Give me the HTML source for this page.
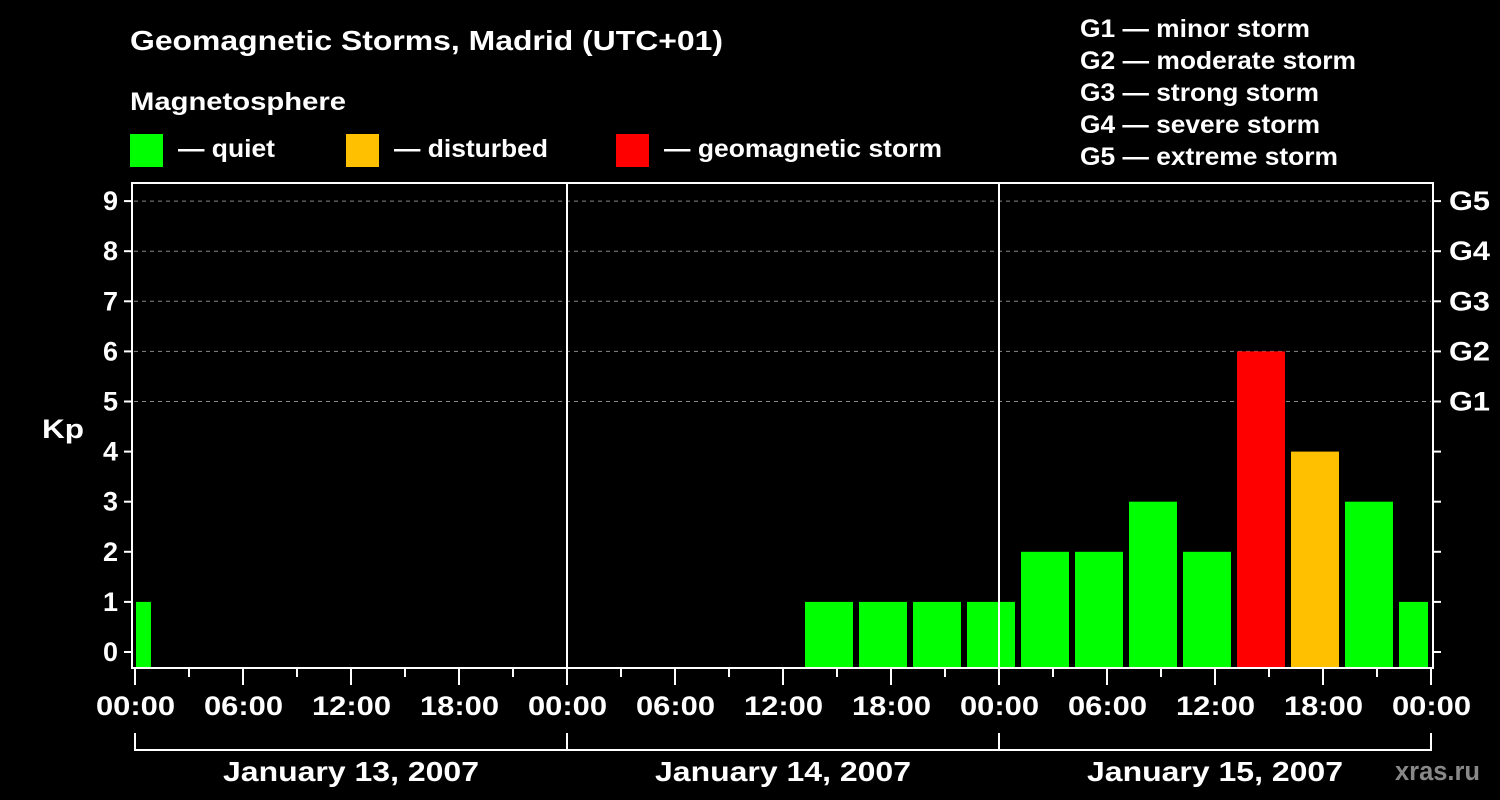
<!DOCTYPE html>
<html><head><meta charset="utf-8"><style>
body{margin:0;background:#000;width:1500px;height:800px;overflow:hidden}
svg{display:block;font-family:"Liberation Sans",Arial,sans-serif;font-weight:bold}
</style></head><body>
<svg id="chart" width="1500" height="800">
<rect width="1500" height="800" fill="#000"/>
<text x="130" y="50" fill="#fff" font-size="28" textLength="593" lengthAdjust="spacingAndGlyphs">Geomagnetic Storms, Madrid (UTC+01)</text>
<text x="130" y="110" fill="#fff" font-size="25" textLength="216" lengthAdjust="spacingAndGlyphs">Magnetosphere</text>
<g>
<rect x="130" y="134" width="33" height="33" fill="#00ff00"/>
<text x="178" y="157" fill="#fff" font-size="25" textLength="97" lengthAdjust="spacingAndGlyphs">— quiet</text>
<rect x="346" y="134" width="33" height="33" fill="#ffc000"/>
<text x="394" y="157" fill="#fff" font-size="25" textLength="154" lengthAdjust="spacingAndGlyphs">— disturbed</text>
<rect x="616" y="134" width="33" height="33" fill="#ff0000"/>
<text x="664" y="157" fill="#fff" font-size="25" textLength="278" lengthAdjust="spacingAndGlyphs">— geomagnetic storm</text>
</g>
<g fill="#fff" font-size="25">
<text x="1080" y="37" textLength="230" lengthAdjust="spacingAndGlyphs">G1 — minor storm</text>
<text x="1080" y="69" textLength="276" lengthAdjust="spacingAndGlyphs">G2 — moderate storm</text>
<text x="1080" y="101" textLength="239" lengthAdjust="spacingAndGlyphs">G3 — strong storm</text>
<text x="1080" y="133" textLength="240" lengthAdjust="spacingAndGlyphs">G4 — severe storm</text>
<text x="1080" y="165" textLength="258" lengthAdjust="spacingAndGlyphs">G5 — extreme storm</text>
</g>
<text x="42" y="438" fill="#fff" font-size="27" textLength="42" lengthAdjust="spacingAndGlyphs">Kp</text>
<text x="1395" y="780" fill="#888" font-size="27" textLength="85" lengthAdjust="spacingAndGlyphs">xras.ru</text>
<g id="grid"></g><g id="bars"></g><g id="axes"></g>
</svg>
<script>
const days = ["January 13, 2007","January 14, 2007","January 15, 2007"];
const kp = [1,0,0,0,0,0,0,0,0,0,0,0,0,1,1,1,1,2,2,3,2,6,4,3,1];
const yTicks = [0,1,2,3,4,5,6,7,8,9];
const gLabels = ["G1","G2","G3","G4","G5"];
const hourLabels = ["00:00","06:00","12:00","18:00"];
const NS="http://www.w3.org/2000/svg";
const X0=135, PXH=18, L=132, R=1433, T=183, B=668;
const x = h => X0 + h*PXH;
const y = v => 652 - v*50.1;
function el(tag, attrs, parent, txt){const e=document.createElementNS(NS,tag);for(const k in attrs)e.setAttribute(k,attrs[k]);if(txt!==undefined)e.textContent=txt;parent.appendChild(e);return e;}
const grid=document.getElementById('grid'), bars=document.getElementById('bars'), axes=document.getElementById('axes');
kp.forEach((v,i)=>{
  if(v<=0) return;
  const s=-2+3*i;
  let x1=Math.max(x(s)+4,136), x2=Math.min(x(s+3)-2,1428);
  const c = v>=5?"#ff0000":(v>=4?"#ffc000":"#00ff00");
  const r=el('rect',{x:x1,y:y(v),width:x2-x1,height:B-y(v),fill:c},bars);
  
  
});
for(let g=5;g<=9;g++){
  const l=el('line',{x1:L+2,x2:R-2,y1:y(g),y2:y(g),stroke:"#888","stroke-dasharray":"4 4","stroke-width":1},grid);
  
  
}
const f=el('rect',{x:L,y:T,width:R-L,height:B-T,fill:"none",stroke:"#fff","stroke-width":2},axes);


for(let d=1;d<days.length;d++){el('line',{x1:x(24*d),x2:x(24*d),y1:T,y2:B,stroke:"#fff","stroke-width":2},axes);}
yTicks.forEach(v=>{
  el('line',{x1:L-8,x2:L,y1:y(v),y2:y(v),stroke:"#fff","stroke-width":2},axes);
  el('line',{x1:R,x2:R+8,y1:y(v),y2:y(v),stroke:"#fff","stroke-width":2},axes);
  const t=el('text',{x:L-14,y:y(v)+9,fill:"#fff","font-size":27,"text-anchor":"end"},axes,String(v));
  
  
});
gLabels.forEach((g,i)=>{
  const t=el('text',{x:1449,y:y(5+i)+9,fill:"#fff","font-size":27,textLength:41,lengthAdjust:"spacingAndGlyphs"},axes,g);
  
  
});
for(let h=0;h<=72;h+=3){
  const major=h%6===0;
  el('line',{x1:x(h),x2:x(h),y1:B,y2:major?685:677,stroke:"#fff","stroke-width":2},axes);
  if(major){
    const t=el('text',{x:x(h)-39,y:715,fill:"#fff","font-size":27,textLength:79,lengthAdjust:"spacingAndGlyphs"},axes,hourLabels[(h/6)%4]);
    
    
  }
}
el('line',{x1:x(0),x2:x(72),y1:750,y2:750,stroke:"#fff","stroke-width":2},axes);
for(let d=0;d<=days.length;d++)el('line',{x1:x(24*d),x2:x(24*d),y1:733,y2:751,stroke:"#fff","stroke-width":2},axes);
days.forEach((d,i)=>{
  const t=el('text',{x:x(24*i+12)-128,y:781,fill:"#fff","font-size":28,textLength:256,lengthAdjust:"spacingAndGlyphs"},axes,d);
  
  
});
</script>
</body></html>
